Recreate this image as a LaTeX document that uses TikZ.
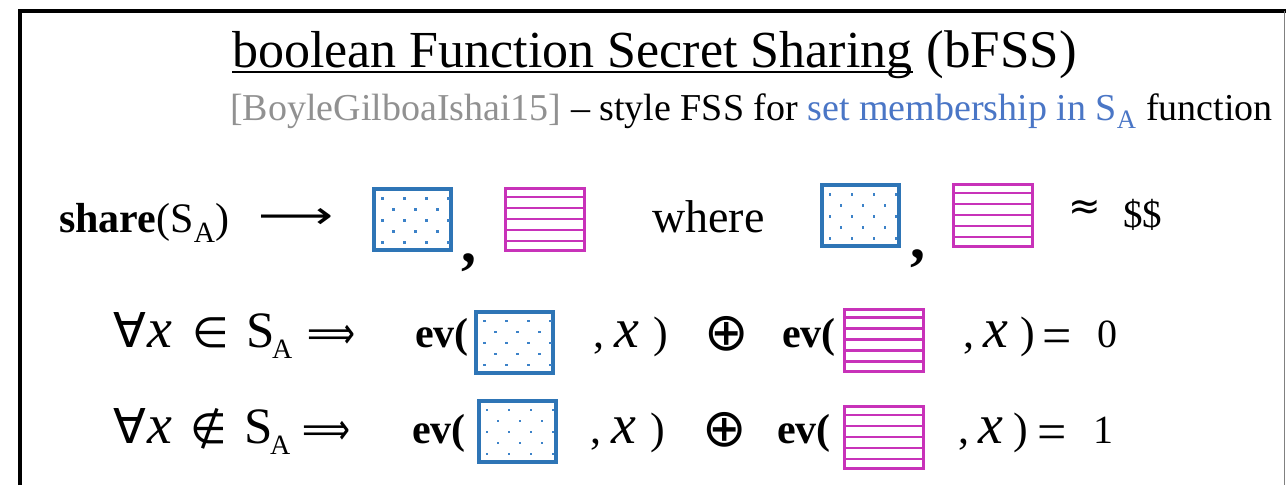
\documentclass[tikz,border=0pt]{standalone}
\usepackage{fontspec}
\setmainfont{Liberation Serif}
\newfontfamily\symf{DejaVu Sans}
\usepackage{graphicx}
\newcommand\fsz[1]{\fontsize{#1}{#1}\selectfont}
\definecolor{refgray}{RGB}{145,145,145}
\definecolor{setblue}{RGB}{74,118,198}
\definecolor{bframe}{RGB}{46,117,182}
\definecolor{bdot}{RGB}{60,130,200}
\definecolor{mframe}{RGB}{200,50,185}
\newcommand\bluebox[3]{%
  \node[bshare] (#1) at (#2,#3) {};
  \foreach \j in {0,2,4}{\foreach \i in {0,1,2,3}{\fill[bdot] (#2-40.5+9+22*\i,#3-32.5+10+11*\j) rectangle ++(2.5,2.5);}}
  \foreach \j in {1,3}{\foreach \i in {0,1,2}{\fill[bdot] (#2-40.5+20+22*\i,#3-32.5+10+11*\j) rectangle ++(2.5,2.5);}}
}
\newcommand\magbox[3]{%
  \node[mshare] (#1) at (#2,#3) {};
  \foreach \k in {0,...,4}{\draw[mframe,line width=2.5pt] (#2-40,#3-32.5+10+11*\k) -- (#2+40,#3-32.5+10+11*\k);}
}
\begin{document}
\begin{tikzpicture}[x=1pt,y=-1pt,
  txt/.style={inner sep=0pt,anchor=base west},
  bshare/.style={draw=bframe,line width=4pt,fill=white,minimum width=77pt,minimum height=61pt,inner sep=0pt,outer sep=0pt},
  mshare/.style={draw=mframe,line width=3pt,fill=white,minimum width=79pt,minimum height=62pt,inner sep=0pt,outer sep=0pt}]
\useasboundingbox (0,0) rectangle (1286,485);
\fill[white] (0,0) rectangle (1286,485);
% frame
\coordinate (fbl) at (20,485);
\coordinate (ftl) at (20,11);
\coordinate (ftr) at (1284,11);
\coordinate (fbr) at (1284,485);
\draw[line width=3.5pt] (fbl) -- (ftl) -- ([xshift=2pt]ftr);
\draw[gray,line width=1pt] (ftr) -- (fbr);
% title
\node[txt] (t1) at (232,67) {\fsz{52}boolean Function Secret Sharing};
\draw[line width=2pt] ([yshift=-5pt]t1.base west) -- ([yshift=-5pt]t1.base east);
\node[txt] (t2) at ([xshift=14pt]t1.base east) {\fsz{53}(bFSS)};
\node[txt] (t3) at (230,120) {\fsz{38}\textcolor{refgray}{[BoyleGilboaIshai15]} – style FSS for \textcolor{setblue}{set membership in S\textsubscript{A}} function};
% row 3
\node[txt] (share) at (59,232) {\fsz{42}\textbf{share}(S\textsubscript{A})};
\node[txt] (arr) at (258,228) {\resizebox{75pt}{\height}{\symf\fsz{38}⟶}};
\bluebox{b1}{412.5}{219.5}
\node[txt] (c1) at (461,262) {\fsz{60}\textbf{,}};
\magbox{m1}{544.5}{219.5}
\node[txt] (where) at (652,232) {\fsz{46}where};
\bluebox{b2}{860}{215.5}
\node[txt] (c2) at (910,258) {\fsz{60}\textbf{,}};
\magbox{m2}{993}{215.5}
\node[txt] (approx) at (1068,219) {\symf\fsz{39}≈};
\node[txt] (dollars) at (1123,227) {\fsz{39}\$\$};
% row 4
\node[txt] (fa1) at (113,347) {\symf\fsz{48}∀};
\node[txt] (x1) at (147,347) {\fsz{56}\textit{x}};
\node[txt] (in1) at (192,347) {\symf\fsz{42}∈};
\node[txt] (s1) at (246,347) {\fsz{51}S};
\node[txt] (a1) at (272,358) {\fsz{28}A};
\node[txt] (imp1) at (307,348) {\resizebox{48pt}{\height}{\symf\fsz{44}⟹}};
\node[txt] (ev1) at (415,347) {\fsz{42}\textbf{ev(}};
\bluebox{b3}{514.5}{342}
\node[txt] (cm1) at (593,347) {\fsz{44},};
\node[txt] (x2) at (614,347) {\fsz{56}\textit{x}};
\node[txt] (rp1) at (653,347) {\fsz{44})};
\node[txt] (op1) at (704,350) {\symf\fsz{53}⊕};
\node[txt] (ev2) at (782,347) {\fsz{42}\textbf{ev(}};
\magbox{m3}{884}{340}
\node[txt] (cm2) at (963,347) {\fsz{44},};
\node[txt] (x3) at (983,347) {\fsz{56}\textit{x}};
\node[txt] (rp2) at (1020,347) {\fsz{44})};
\node[txt] (eq1) at (1042,353) {\fsz{52}=};
\node[txt] (zero) at (1097,347) {\fsz{40}0};
% row 5
\node[txt] (fa2) at (113,443) {\symf\fsz{48}∀};
\node[txt] (x4) at (147,443) {\fsz{56}\textit{x}};
\node[txt] (nin2) at (190,443) {\symf\fsz{42}∉};
\node[txt] (s2) at (244,443) {\fsz{51}S};
\node[txt] (a2) at (270,454) {\fsz{28}A};
\node[txt] (imp2) at (302,444) {\resizebox{48pt}{\height}{\symf\fsz{44}⟹}};
\node[txt] (ev3) at (412,443) {\fsz{42}\textbf{ev(}};
\bluebox{b4}{517}{431}
\node[txt] (cm3) at (590,443) {\fsz{44},};
\node[txt] (x5) at (611,443) {\fsz{56}\textit{x}};
\node[txt] (rp3) at (650,443) {\fsz{44})};
\node[txt] (op2) at (702,446) {\symf\fsz{53}⊕};
\node[txt] (ev4) at (777,443) {\fsz{42}\textbf{ev(}};
\magbox{m4}{884}{437.5}
\node[txt] (cm4) at (958,443) {\fsz{44},};
\node[txt] (x6) at (978,443) {\fsz{56}\textit{x}};
\node[txt] (rp4) at (1013,443) {\fsz{44})};
\node[txt] (eq2) at (1037,449) {\fsz{52}=};
\node[txt] (one) at (1093,443) {\fsz{40}1};
\end{tikzpicture}
\end{document}
